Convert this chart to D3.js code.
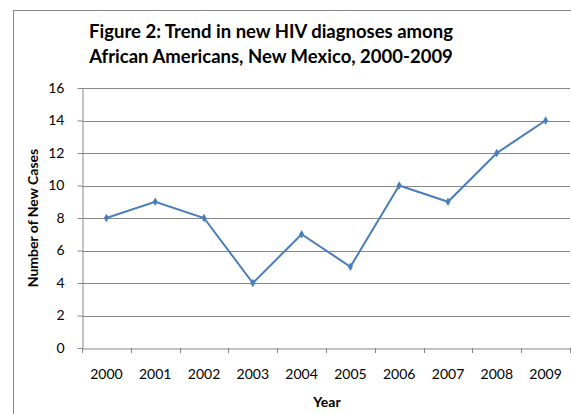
<!DOCTYPE html>
<html>
<head>
<meta charset="utf-8">
<script src="https://cdn.jsdelivr.net/npm/d3@7"></script>
<style>
  body { margin: 0; background: #fff; }
  text { font-family: Lato, "Open Sans", sans-serif; fill: #000; }
</style>
</head>
<body>
<div id="chart"></div>
<script>
// data
const years = ["2000", "2001", "2002", "2003", "2004", "2005", "2006", "2007", "2008", "2009"];
const newCases = [8, 9, 8, 4, 7, 5, 10, 9, 12, 14];
const yTicks = [0, 2, 4, 6, 8, 10, 12, 14, 16];

const W = 571, H = 414;
const margin = { left: 82, right: 1, top: 88, bottom: 66 };

const svg = d3.select("#chart").append("svg")
    .attr("width", W)
    .attr("height", H);

// chart frame
svg.append("rect")
    .attr("x", 13.5).attr("y", 10.5)
    .attr("width", W).attr("height", H)
    .attr("fill", "none")
    .attr("stroke", "#878787");

const x = d3.scaleBand()
    .domain(years)
    .range([margin.left, W - margin.right]);

const y = d3.scaleLinear()
    .domain([0, 16])
    .range([H - margin.bottom, margin.top]);

// gridlines
svg.append("g")
    .selectAll("line")
    .data(yTicks.filter(d => d > 0))
    .enter().append("line")
    .attr("x1", margin.left).attr("x2", W - margin.right)
    .attr("y1", d => Math.round(y(d)) + 0.5).attr("y2", d => Math.round(y(d)) + 0.5)
    .attr("stroke", "#878787");

// y axis
const yAxis = svg.append("g")
    .attr("transform", `translate(${margin.left + 0.5},0)`)
    .call(d3.axisLeft(y).tickValues(yTicks).tickSize(5).tickSizeOuter(0).tickPadding(13));
yAxis.selectAll("line, path").attr("stroke", "#878787");
yAxis.selectAll("text").style("font-size", "14px").style("font-family", "Lato");

// x axis
const xAxis = svg.append("g")
    .attr("transform", `translate(0,${Math.round(y(0)) + 0.5})`)
    .call(d3.axisBottom(x).tickSize(0).tickPadding(21));
xAxis.select("path").attr("stroke", "#878787");
xAxis.selectAll("text").style("font-size", "14px").style("font-family", "Lato");

// category boundary ticks
svg.append("g")
    .selectAll("line")
    .data(years.map(d => x(d)).concat([x(years[years.length - 1]) + x.bandwidth()]))
    .enter().append("line")
    .attr("x1", d => Math.round(d) + 0.5).attr("x2", d => Math.round(d) + 0.5)
    .attr("y1", Math.round(y(0))).attr("y2", Math.round(y(0)) + 5)
    .attr("stroke", "#878787");

// line + diamond markers
const line = d3.line()
    .x((d, i) => x(years[i]) + x.bandwidth() / 2)
    .y(d => y(d));

svg.append("path")
    .datum(newCases)
    .attr("d", line)
    .attr("fill", "none")
    .attr("stroke", "#4A7EBB")
    .attr("stroke-width", 2);

svg.append("g")
    .selectAll("path")
    .data(newCases)
    .enter().append("path")
    .attr("d", d3.symbol().type(d3.symbolDiamond).size(22))
    .attr("transform", (d, i) => `translate(${x(years[i]) + x.bandwidth() / 2},${y(d)})`)
    .attr("fill", "#4A7EBB");

// titles
const title = svg.append("text")
    .attr("text-anchor", "middle")
    .style("font-size", "18.5px")
    .style("font-weight", "bold");
title.append("tspan").attr("x", 271).attr("y", 38).text("Figure 2: Trend in new HIV diagnoses among");
title.append("tspan").attr("x", 271).attr("y", 63).text("African Americans, New Mexico, 2000-2009");

svg.append("text")
    .attr("x", 327).attr("y", 407)
    .attr("text-anchor", "middle")
    .style("font-size", "14px")
    .style("font-weight", "bold")
    .text("Year");

svg.append("text")
    .attr("transform", "translate(38,218) rotate(-90)")
    .attr("text-anchor", "middle")
    .style("font-size", "14px")
    .style("font-weight", "bold")
    .text("Number of New Cases");
</script>
</body>
</html>
